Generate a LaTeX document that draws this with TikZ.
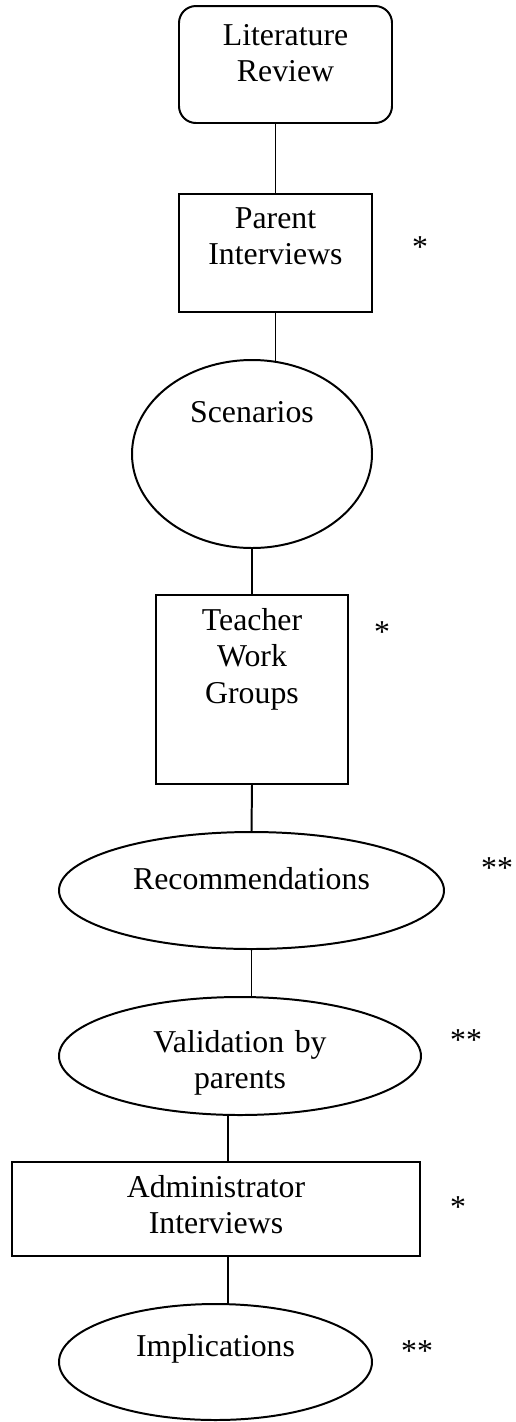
\documentclass[tikz,border=0pt]{standalone}
\usepackage{fontspec}
\setmainfont{Liberation Serif}
\usepackage{tikz}
\usetikzlibrary{shapes.geometric,calc}

\begin{document}
\begin{tikzpicture}[x=0.37736pt, y=-0.37736pt, line width=0.75pt,
  font=\fontsize{12}{13.8}\selectfont,
  stage/.style={draw, inner sep=0pt, align=center},
  boxstage/.style={stage, rectangle},
  roundstage/.style={stage, rectangle, rounded corners=6.4pt},
  ovalstage/.style={stage, ellipse},
  starlbl/.style={inner sep=0pt, anchor=base}]
  % page frame
  \useasboundingbox (0,0) rectangle (516,1422);

  % stages
  \node[roundstage, minimum width=80.38pt, text width=70pt,
        text height=14.72pt, text depth=29.43pt] (lit) at (285.5,64.5) {Literature\\Review};
  \node[boxstage, minimum width=72.83pt, text width=60pt,
        text height=12.83pt, text depth=31.70pt] (par) at (275.5,253) {Parent\\Interviews};
  \node[ovalstage, minimum width=90.57pt, minimum height=70.94pt, text width=52.83pt,
        text height=3.77pt, text depth=27.92pt] (scn) at (252,454) {Scenarios};
  \node[boxstage, minimum width=72.45pt, text width=60pt,
        text height=13.21pt, text depth=58.11pt] (tch) at (252,689.5) {Teacher\\Work\\Groups};
  \node[ovalstage, minimum width=145.28pt, minimum height=44.15pt, text width=94.3pt,
        text height=3.77pt, text depth=4.91pt] (rec) at (251.5,890.5) {Recommendations\hspace*{5pt}};
  \node[ovalstage, minimum width=136.6pt, minimum height=44.53pt, text width=75pt,
        text height=3.77pt, text depth=6.79pt] (val) at (240,1056) {Validation by\\parents};
  \node[boxstage, minimum width=153.96pt, text width=100pt,
        text height=13.21pt, text depth=22.26pt] (adm) at (216,1209) {Administrator\\Interviews};
  \node[ovalstage, minimum width=118.11pt, minimum height=43.77pt, text width=66pt,
        text height=3.77pt, text depth=8.30pt] (imp) at (215.5,1362) {Implications};

  % marks
  \node[starlbl] (s1) at (420,257) {*};
  \node[starlbl] (s2) at (382,642) {*};
  \node[starlbl] (s3) at (497,878) {**};
  \node[starlbl] (s4) at (466,1050) {**};
  \node[starlbl] (s5) at (458,1217) {*};
  \node[starlbl] (s6) at (417,1361) {**};

  % links
  \draw (lit.south -| par.north) -- (par.north);
  \draw (par.south) -- (par.south |- scn.75.7);
  \draw (scn.south) -- (tch.north);
  \draw (tch.south) -- (rec.north);
  \draw (rec.south) -- (rec.south |- val.north);
  \coordinate (j1) at ($(val.south)+(-12,0)$);
  \draw (j1) -- (j1 |- adm.north);
  \coordinate (j2) at ($(adm.south)+(12,0)$);
  \draw (j2) -- (j2 |- imp.north);
\end{tikzpicture}
\end{document}
